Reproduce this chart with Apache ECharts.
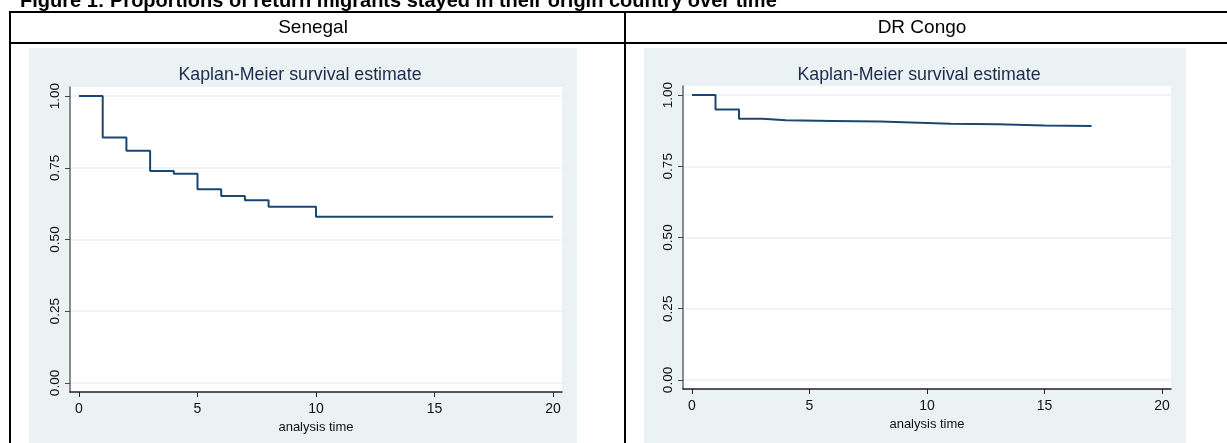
<!DOCTYPE html>
<html>
<head>
<meta charset="utf-8">
<script src="https://cdn.jsdelivr.net/npm/echarts@6/dist/echarts.min.js"></script>
<style>
  html, body { margin: 0; padding: 0; background: #fff; }
  #chart { width: 1227px; height: 443px; }
</style>
</head>
<body>
<div id="chart"></div>
<script>
const senegalTime = [0, 1, 2, 3, 4, 5, 6, 7, 8, 10, 20];
const senegalSurv = [1, 0.855, 0.809, 0.739, 0.729, 0.675, 0.652, 0.637, 0.614, 0.579, 0.579];

const congoTime = [0, 1, 2, 3, 4, 6, 8, 10, 11, 13, 15, 17];
const congoSurv = [1, 0.949, 0.917, 0.911, 0.909, 0.907, 0.902, 0.899, 0.897, 0.893, 0.891, 0.891];

const xTicks = [0, 5, 10, 15, 20];
const yTicks = [0, 0.25, 0.5, 0.75, 1];

const figTitle = 'Figure 1: Proportions of return migrants stayed in their origin country over time';
const panelTitle = 'Kaplan-Meier survival estimate';
const xName = 'analysis time';

const FONT = '"Liberation Sans", Arial, sans-serif';
const BG = '#eaf2f3';
const NAVY = '#1a476f';

// layout of the two panels (pixels)
const panels = [
  { name: 'Senegal', time: senegalTime, surv: senegalSurv, headerX: 313,
    bg: [29, 48, 548, 400], grid: { left: 70, top: 87, width: 492, height: 305 },
    xr: [-0.38, 20.38], yr: [-0.0314, 1.0314], titleX: 300 },
  { name: 'DR Congo', time: congoTime, surv: congoSurv, headerX: 922,
    bg: [644, 48, 542, 400], grid: { left: 683, top: 86, width: 488, height: 303 },
    xr: [-0.383, 20.383], yr: [-0.0316, 1.0316], titleX: 919 },
];

const chart = echarts.init(document.getElementById('chart'));

const graphic = [];
panels.forEach(p => {
  graphic.push({ type: 'rect', z: -10, shape: { x: p.bg[0], y: p.bg[1], width: p.bg[2], height: p.bg[3] }, style: { fill: BG } });
  graphic.push({ type: 'rect', z: -9, shape: { x: p.grid.left, y: p.grid.top, width: p.grid.width, height: p.grid.height }, style: { fill: '#fff' } });
  graphic.push({ type: 'text', x: p.headerX, y: 28, style: { text: p.name, font: '19px ' + FONT, fill: '#000', align: 'center', verticalAlign: 'middle' } });
  graphic.push({ type: 'text', x: p.titleX, y: 75, style: { text: panelTitle, font: '17.8px ' + FONT, fill: '#1c2a4e', align: 'center', verticalAlign: 'middle' } });
});
// table frame
const frame = { stroke: '#000', lineWidth: 2 };
graphic.push({ type: 'line', shape: { x1: 9, y1: 12, x2: 1240, y2: 12 }, style: frame });
graphic.push({ type: 'line', shape: { x1: 9, y1: 43, x2: 1240, y2: 43 }, style: frame });
graphic.push({ type: 'line', shape: { x1: 10, y1: 11, x2: 10, y2: 450 }, style: frame });
graphic.push({ type: 'line', shape: { x1: 625, y1: 11, x2: 625, y2: 450 }, style: frame });
graphic.push({ type: 'text', x: 20, y: 11, style: { text: figTitle, font: 'bold 20px ' + FONT, fill: '#000', align: 'left', verticalAlign: 'bottom' } });

const grids = panels.map(p => p.grid);

const xAxes = panels.map((p, i) => ({
  type: 'value', gridIndex: i, min: p.xr[0], max: p.xr[1],
  name: xName, nameLocation: 'middle', nameGap: 23,
  nameTextStyle: { fontFamily: FONT, fontSize: 13, color: '#111' },
  axisLine: { show: true, onZero: false, lineStyle: { color: '#222', width: 1.5 } },
  axisTick: { show: true, length: 5, customValues: xTicks, lineStyle: { color: '#222' } },
  axisLabel: { customValues: xTicks, margin: 10, fontFamily: FONT, fontSize: 14, color: '#111' },
  splitLine: { show: false },
}));

const yAxes = panels.map((p, i) => ({
  type: 'value', gridIndex: i, min: p.yr[0], max: p.yr[1],
  axisLine: { show: true, onZero: false, lineStyle: { color: '#666', width: 1.5 } },
  axisTick: { show: true, length: 5, customValues: yTicks, lineStyle: { color: '#444' } },
  axisLabel: { customValues: yTicks, rotate: 90, margin: 8, fontFamily: FONT, fontSize: 13.5, color: '#111',
    formatter: v => v.toFixed(2) },
  splitLine: { show: true, lineStyle: { color: BG, width: 1.5 } },
}));

const series = panels.map((p, i) => ({
  type: 'line', xAxisIndex: i, yAxisIndex: i, step: 'end', symbol: 'none',
  lineStyle: { color: NAVY, width: 2 },
  data: p.time.map((t, k) => [t, p.surv[k]]),
}));

chart.setOption({
  animation: false,
  backgroundColor: '#fff',
  graphic,
  grid: grids,
  xAxis: xAxes,
  yAxis: yAxes,
  series,
});
</script>
</body>
</html>
